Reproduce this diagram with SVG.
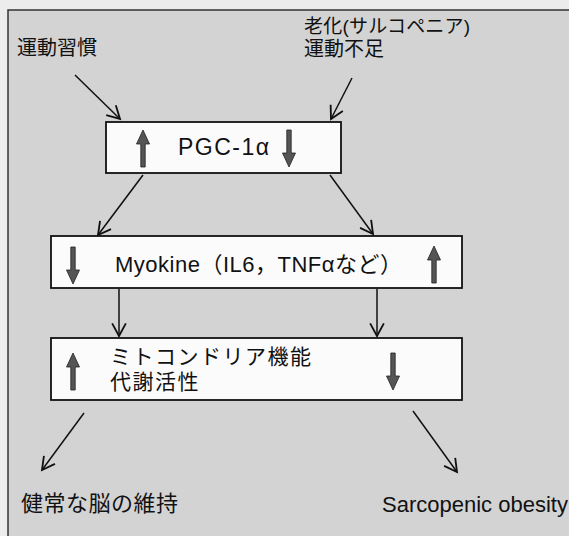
<svg xmlns="http://www.w3.org/2000/svg" width="569" height="536" viewBox="0 0 569 536">
<style>
.bg{fill:#d3d3d3}
.box{fill:#fbfbfb;stroke:#111;stroke-width:1.8}
.t{font-family:"Liberation Sans","Noto Sans CJK JP",sans-serif;fill:#111}
.conn line{stroke:#111;stroke-width:1.5;marker-end:url(#open)}
.fat{fill:#555;stroke:#222;stroke-width:0.8}
</style>
<defs>
<marker id="open" markerUnits="userSpaceOnUse" markerWidth="16" markerHeight="16" refX="12" refY="7" orient="auto" viewBox="0 0 14 14">
<path d="M1,1 L12,7 L1,13" fill="none" stroke="#111" stroke-width="1.6"/>
</marker>
<path id="up" d="M0,0 L6.5,14 L2.2,14 L2.2,37 L-2.2,37 L-2.2,14 L-6.5,14 Z"/>
</defs>
<rect width="569" height="536" fill="#ececec"/>
<rect class="bg" x="8" y="10" width="600" height="600" stroke="#333" stroke-width="1.5"/>

<g id="label-habit"><text class="t" x="17" y="55" font-size="20">運動習慣</text></g>
<g id="label-aging">
<text class="t" x="304" y="33" font-size="19" letter-spacing="0.2">老化(サルコペニア)</text>
<text class="t" x="304" y="56" font-size="20">運動不足</text>
</g>

<g class="conn">
<line x1="75" y1="75" x2="120" y2="119"/>
<line x1="352" y1="78" x2="331" y2="119"/>
<line x1="143" y1="175" x2="98" y2="235"/>
<line x1="330" y1="175" x2="373" y2="234"/>
<line x1="119" y1="289" x2="119" y2="336"/>
<line x1="377" y1="289" x2="377" y2="336"/>
<line x1="84" y1="413" x2="42" y2="470"/>
<line x1="413" y1="411" x2="457" y2="472"/>
</g>

<g id="node-pgc">
<rect class="box" x="106" y="122" width="235" height="51"/>
<use href="#up" class="fat" transform="translate(143,130)"/>
<text class="t" x="178" y="155" font-size="23" letter-spacing="1.5">PGC-1α</text>
<use href="#up" class="fat" transform="translate(289,167) rotate(180)"/>
</g>

<g id="node-myokine">
<rect class="box" x="51" y="236" width="411" height="52"/>
<use href="#up" class="fat" transform="translate(73,284) rotate(180)"/>
<text class="t" x="115" y="272" font-size="22" letter-spacing="0.5">Myokine（IL6，TNFαなど）</text>
<use href="#up" class="fat" transform="translate(434,246)"/>
</g>

<g id="node-mito">
<rect class="box" x="51" y="338" width="411" height="62"/>
<use href="#up" class="fat" transform="translate(73,353)"/>
<text class="t" x="110" y="364" font-size="21" letter-spacing="1.5">ミトコンドリア機能</text>
<text class="t" x="110" y="389" font-size="21" letter-spacing="1.5">代謝活性</text>
<use href="#up" class="fat" transform="translate(393,390) rotate(180)"/>
</g>

<g id="label-brain"><text class="t" x="21" y="511" font-size="22" letter-spacing="0.5">健常な脳の維持</text></g>
<g id="label-sarco"><text class="t" x="382" y="512" font-size="22">Sarcopenic obesity</text></g>
</svg>
